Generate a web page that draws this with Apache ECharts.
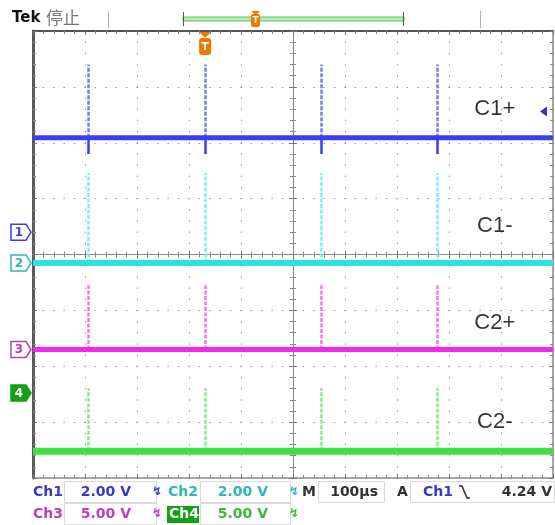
<!DOCTYPE html>
<html lang="zh">
<head>
<meta charset="UTF-8">
<title>Tek 停止</title>
<style>
  html,body{margin:0;padding:0;background:#fff;}
  #scope{width:555px;height:525px;}
</style>
</head>
<body>
<div id="scope"></div>
<script src="https://cdn.jsdelivr.net/npm/echarts@6/dist/echarts.min.js"></script>
<script>
// time in µs (100µs/div), levels in divisions
var spikeTimes=[-394,-169,54,277]
var baseLevels=[2.09,-0.15,-1.70,-3.52]
var spikePeaks=[3.40,1.46,-0.55,-2.39]
var spikeDips=[1.80,-0.15,-1.70,-3.52]
var traceNames=['C1+','C1-','C2+','C2-']
var nameLevels=[2.61,0.51,-1.23,-3.00]
var nameTime=388
var markerLevels=[0.40,-0.15,-1.70,-2.48]
var triggerLevel=2.56
var triggerTime=-169
var chNames=['Ch1','Ch2','Ch3','Ch4']
var voltsDiv=['2.00 V','2.00 V','5.00 V','5.00 V']
var timeDiv='100µs'
var trigSource='Ch1'
var trigLevelText='4.24 V'

var traceColor=['#3c3cf0','#28e4e4','#f028f0','#3ee03e']
var spikeColor=['#6a6af2','#70eeee','#f068f2','#7ce87c']
var textColor=['#3838c8','#2cb8b8','#c03cc0','#3cb83c']
var traceWidth=[5,6,5,7]

var myChart=echarts.init(document.getElementById('scope'))
var rect={left:33,top:31,width:520,height:447}

function edgeAxis(grid,isX,pos,color,width,split){
    return {
        gridIndex:grid,type:'value',position:pos,
        min:isX?-500:-4,max:isX?500:4,interval:isX?100:1,
        axisLine:{show:true,onZero:false,lineStyle:{color:color,width:width}},
        axisTick:{show:true,inside:true,length:4,lineStyle:{color:'#777'}},
        minorTick:{show:true,splitNumber:5,length:3,lineStyle:{color:'#888'}},
        axisLabel:{show:false},
        splitLine:{show:split,lineStyle:{color:'#9a9a9a',width:1,type:isX?[1.5,9.68]:[1.5,8.9],dashOffset:0.75}},
        minorSplitLine:{show:false}
    }
}
function centerAxis(grid,isX,inside){
    return {
        gridIndex:grid,type:'value',
        min:isX?-500:-4,max:isX?500:4,interval:isX?100:1,
        axisLine:{show:true,onZero:true,lineStyle:{color:'#8a8a8a',width:1}},
        axisTick:{show:true,inside:inside,length:4,lineStyle:{color:'#777'}},
        minorTick:{show:true,splitNumber:5,length:3,lineStyle:{color:'#888'}},
        axisLabel:{show:false},
        splitLine:{show:false}
    }
}

var series=[]
for(let i=0;i<4;i++){
    let b=baseLevels[i]
    series.push({
        type:'lines',coordinateSystem:'cartesian2d',xAxisIndex:0,yAxisIndex:0,z:2,silent:true,
        data:spikeTimes.map(t=>({coords:[[t,b],[t,spikePeaks[i]]]})),
        lineStyle:{color:spikeColor[i],width:2.5,opacity:0.9,type:[4,1.5]}
    })
    series.push({
        type:'line',xAxisIndex:0,yAxisIndex:0,z:3,silent:true,symbol:'none',
        data:[[-500,b],[500,b]],lineStyle:{color:traceColor[i],width:traceWidth[i]}
    })
    if(spikeDips[i]!=b){
        series.push({
            type:'lines',coordinateSystem:'cartesian2d',xAxisIndex:0,yAxisIndex:0,z:4,silent:true,
            data:spikeTimes.map(t=>({coords:[[t,b],[t,spikeDips[i]]]})),
            lineStyle:{color:traceColor[i],width:2.5,opacity:1}
        })
    }
}
series.push({
    type:'scatter',xAxisIndex:0,yAxisIndex:0,z:5,symbolSize:0,silent:true,
    data:traceNames.map((n,i)=>[nameTime,nameLevels[i],n]),
    label:{show:true,position:'inside',formatter:p=>p.data[2],fontSize:22,color:'#000',fontFamily:'Liberation Sans'}
})

var option={
    animation:false,
    backgroundColor:'#fff',
    grid:[
        Object.assign({outerBoundsMode:'none'},rect),
        Object.assign({outerBoundsMode:'none'},rect),
        Object.assign({outerBoundsMode:'none'},rect)
    ],
    xAxis:[
        edgeAxis(0,true,'bottom','#8a8a8a',1.5,true),
        edgeAxis(0,true,'top','#555',2,false),
        centerAxis(1,true,false),
        centerAxis(2,true,true)
    ],
    yAxis:[
        edgeAxis(0,false,'left','#5a5a5a',3,true),
        edgeAxis(0,false,'right','#8a8a8a',1.5,false),
        centerAxis(1,false,false),
        centerAxis(2,false,true)
    ],
    series:series
}
myChart.setOption(option)

// decorations placed from the chart's own coordinates
function px(t,v){return myChart.convertToPixel({gridIndex:0},[t,v])}
var g=[]
function txt(x,y,s,font,fill,align){
    g.push({type:'text',x:x,y:y,z:20,style:{text:s,font:font,fill:fill,align:align||'left',verticalAlign:'middle'}})
}
function box(x,y,w,h,fill,stroke){
    g.push({type:'rect',z:9,shape:{x:x,y:y,width:w,height:h},style:{fill:fill,stroke:stroke,lineWidth:1}})
}
// top bar
txt(12,18,'Tek','bold 15px "DejaVu Sans"','#111')
txt(46,18,'停止','17px "Noto Sans CJK SC"','#777')
g.push({type:'line',z:9,shape:{x1:108.5,y1:11,x2:108.5,y2:28},style:{stroke:'#b0b0b0',lineWidth:1}})
g.push({type:'line',z:9,shape:{x1:480.5,y1:11,x2:480.5,y2:28},style:{stroke:'#b0b0b0',lineWidth:1}})
box(183,17,221,4,'#b8ecb8','#60c060')
g.push({type:'line',z:10,shape:{x1:183.5,y1:12,x2:183.5,y2:26},style:{stroke:'#555',lineWidth:1}})
g.push({type:'line',z:10,shape:{x1:403.5,y1:12,x2:403.5,y2:26},style:{stroke:'#555',lineWidth:1}})
g.push({type:'polygon',z:11,shape:{points:[[251,11],[260,11],[255.5,15]]},style:{fill:'#f07800'}})
g.push({type:'rect',z:11,shape:{x:251,y:14,width:9,height:13,r:2},style:{fill:'#f07800'}})
txt(255.5,21,'T','bold 9px "DejaVu Sans"','#fff','center')

// trigger position marker
var tp=px(triggerTime,4)
g.push({type:'polygon',z:11,shape:{points:[[tp[0]-6,tp[1]+1],[tp[0]+6,tp[1]+1],[tp[0],tp[1]+7]]},style:{fill:'#f07800'}})
g.push({type:'rect',z:11,shape:{x:tp[0]-6,y:tp[1]+7,width:12,height:17,r:3},style:{fill:'#f07800'}})
txt(tp[0],tp[1]+16,'T','bold 11px "DejaVu Sans"','#fff','center')

// trigger level arrow on the right
var tl=px(500,triggerLevel)
g.push({type:'polygon',z:11,shape:{points:[[tl[0]-13,tl[1]],[tl[0]-6,tl[1]-5],[tl[0]-6,tl[1]+5]]},style:{fill:'#3030d0'}})

// channel ground markers
var markColor=['#4040c8','#30b4b4','#b840b8','#14a014']
markerLevels.forEach((v,i)=>{
    let p=px(-500,v)
    let x0=p[0]-22,y=p[1]
    let pts=[[x0,y-8],[x0+15,y-8],[x0+20,y],[x0+15,y+8],[x0,y+8]]
    let filled=i==3
    g.push({type:'polygon',z:11,shape:{points:pts},style:{fill:filled?markColor[i]:'#fff',stroke:markColor[i],lineWidth:1.5}})
    txt(x0+8,y+0.5,String(i+1),'bold 12px "DejaVu Sans"',filled?'#fff':markColor[i],'center')
})

// readouts
var r1=492,r2=514
box(64.5,481.5,92,21,'#fff','#dadada')
box(64.5,503.5,92,21,'#fff','#dadada')
box(200.5,481.5,90,21,'#fff','#dadada')
box(200.5,503.5,90,21,'#fff','#dadada')
box(318.5,481.5,66,21,'#fff','#dadada')
box(410.5,481.5,144,21,'#fff','#dadada')
var f='bold 14px "DejaVu Sans"'
txt(33,r1,chNames[0],f,textColor[0])
txt(131,r1,voltsDiv[0],f,textColor[0],'right')
txt(157,r1,'↯','bold 12px "DejaVu Sans"',textColor[0],'center')
txt(168,r1,chNames[1],f,textColor[1])
txt(268,r1,voltsDiv[1],f,textColor[1],'right')
txt(294,r1,'↯','bold 12px "DejaVu Sans"',textColor[1],'center')
txt(302,r1,'M',f,'#333')
txt(378,r1,timeDiv,f,'#333','right')
txt(397,r1,'A',f,'#333')
txt(423,r1,trigSource,f,textColor[0])
g.push({type:'polyline',z:10,shape:{points:[[459,486],[462,486],[467,498],[470,498]]},style:{stroke:'#333',lineWidth:1.6,fill:null}})
txt(552,r1,trigLevelText,f,'#333','right')
txt(33,r2,chNames[2],f,textColor[2])
txt(131,r2,voltsDiv[2],f,textColor[2],'right')
txt(157,r2,'↯','bold 12px "DejaVu Sans"',textColor[2],'center')
box(167,506,32,17,'#14a014',null)
txt(169,r2+0.5,chNames[3],f,'#fff')
txt(268,r2,voltsDiv[3],f,textColor[3],'right')
txt(294,r2,'↯','bold 12px "DejaVu Sans"',textColor[3],'center')

myChart.setOption({graphic:{elements:g}})
</script>
</body>
</html>
